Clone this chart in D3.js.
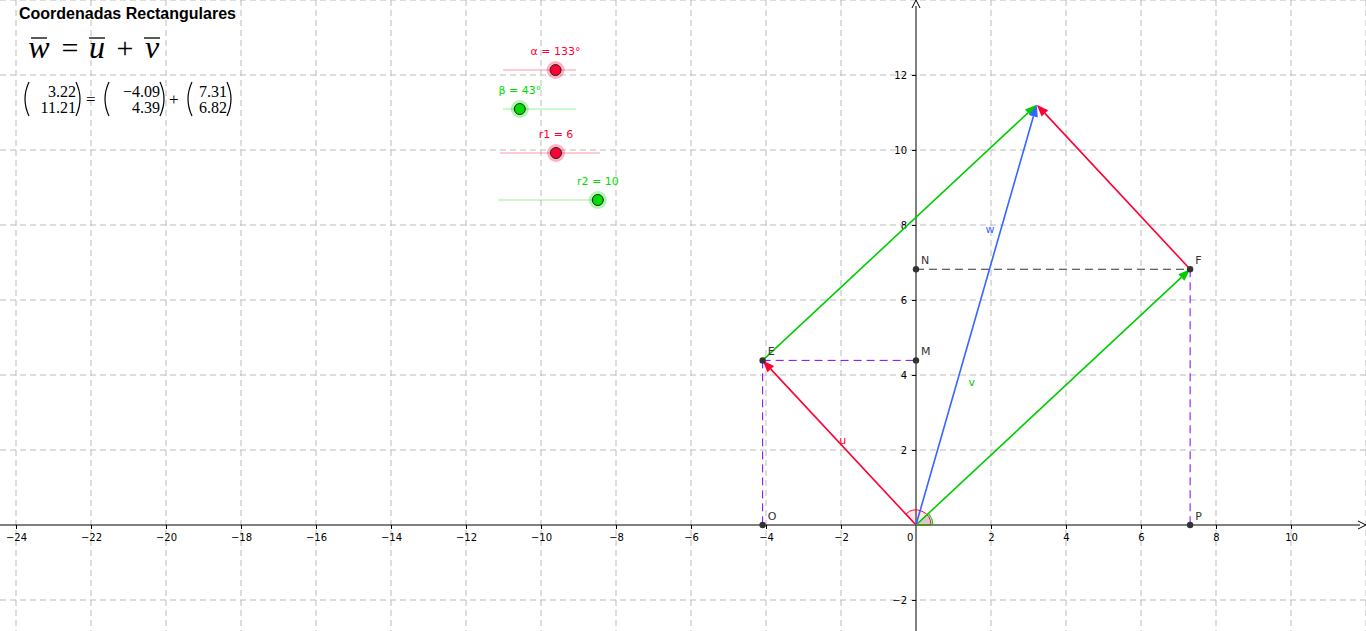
<!DOCTYPE html><html><head><meta charset="utf-8">
<script src="https://cdn.jsdelivr.net/npm/d3@7"></script>
<style>body{margin:0;background:#fff}svg{display:block}</style></head><body>
<svg id="c" width="1366" height="631" font-family="DejaVu Sans, sans-serif"></svg>
<script>
const xTicks=[-24,-22,-20,-18,-16,-14,-12,-10,-8,-6,-4,-2,2,4,6,8,10];
const yTicks=[-2,2,4,6,8,10,12];
const U=[-4.09,4.39], V=[7.31,6.82], W=[3.22,11.21];
const points=[{n:"E",p:[-4.09,4.39]},{n:"F",p:[7.31,6.82]},{n:"M",p:[0,4.39]},{n:"N",p:[0,6.82]},{n:"O",p:[-4.09,0]},{n:"P",p:[7.31,0]}];
const sliders=[{label:"α = 133°",col:"#ff0033",y:70,x0:503,x1:576,frac:0.72},{label:"β = 43°",col:"#00dd00",y:109,x0:503,x1:576,frac:0.23},{label:"r1 = 6",col:"#ff0033",y:153,x0:500,x1:600,frac:0.56},{label:"r2 = 10",col:"#00dd00",y:200,x0:498,x1:602,frac:0.96}];
const svg=d3.select("#c");
const x=d3.scaleLinear().domain([-24,0]).range([16,916]);
const y=d3.scaleLinear().domain([0,12]).range([525,75]);
const g=svg.append("g");
for(let v=-24;v<=12;v+=2) if(v!==0) g.append("line").attr("x1",x(v)).attr("x2",x(v)).attr("y1",0).attr("y2",631).attr("stroke","#bbb").attr("stroke-dasharray","6,4");
for(let v=-2;v<=16;v+=2) if(v!==0) g.append("line").attr("x1",0).attr("x2",1366).attr("y1",y(v)).attr("y2",y(v)).attr("stroke","#bbb").attr("stroke-dasharray","6,4");
const xa=d3.axisBottom(x).tickValues(xTicks).tickSize(4).tickFormat(d=>d<0?"−"+(-d):d);
const ya=d3.axisLeft(y).tickValues(yTicks).tickSize(4).tickFormat(d=>d<0?"−"+(-d):d);
const gx=svg.append("g").attr("transform",`translate(0,${y(0)})`).call(xa);
const gy=svg.append("g").attr("transform",`translate(${x(0)},0)`).call(ya);
[gx,gy].forEach(a=>{a.select(".domain").remove();a.attr("font-family","DejaVu Sans, sans-serif");a.selectAll("text").attr("font-size",10).attr("fill","#000");a.selectAll("line").attr("stroke","#000");});
gx.selectAll("text").attr("dy","0.9em");
gy.selectAll("text").attr("dx","-2").attr("dy","0.35em");
svg.append("line").attr("x1",0).attr("x2",1360).attr("y1",y(0)).attr("y2",y(0)).attr("stroke","#000");
svg.append("line").attr("x1",x(0)).attr("x2",x(0)).attr("y1",631).attr("y2",6).attr("stroke","#000");
svg.append("path").attr("d",`M1358,${y(0)-4}L1366,${y(0)}L1358,${y(0)+4}`).attr("fill","none").attr("stroke","#000");
svg.append("path").attr("d",`M${x(0)-4},8L${x(0)},0L${x(0)+4},8`).attr("fill","none").attr("stroke","#000");
svg.append("text").attr("x",x(0)-9).attr("y",y(0)+16).attr("font-size",10).text("0");
const arc=d3.arc();
svg.append("path").attr("transform",`translate(${x(0)},${y(0)})`).attr("d",arc({innerRadius:0,outerRadius:15,startAngle:Math.PI/2-133*Math.PI/180,endAngle:Math.PI/2})).attr("fill","rgba(255,0,50,0.1)").attr("stroke","#ff0033");
svg.append("path").attr("transform",`translate(${x(0)},${y(0)})`).attr("d",arc({innerRadius:0,outerRadius:17,startAngle:Math.PI/2-43*Math.PI/180,endAngle:Math.PI/2})).attr("fill","rgba(120,120,120,0.25)").attr("stroke","#00cc00");
function dl(a,b,c,dash){svg.append("line").attr("x1",x(a[0])).attr("y1",y(a[1])).attr("x2",x(b[0])).attr("y2",y(b[1])).attr("stroke",c).attr("stroke-dasharray",dash);}
dl([0,6.82],V,"#333","8,5");
dl(U,[0,4.39],"#7f00ff","8,5");dl(U,[-4.09,0],"#7f00ff","8,5");dl(V,[7.31,0],"#7f00ff","8,5");
function vec(a,b,c){const x1=x(a[0]),y1=y(a[1]),x2=x(b[0]),y2=y(b[1]);const ang=Math.atan2(y2-y1,x2-x1),L=12,H=4.5;
 const bx=x2-L*Math.cos(ang),by=y2-L*Math.sin(ang);
 svg.append("line").attr("x1",x1).attr("y1",y1).attr("x2",bx).attr("y2",by).attr("stroke",c).attr("stroke-width",1.6);
 svg.append("path").attr("d",`M${x2},${y2}L${bx+H*Math.sin(ang)},${by-H*Math.cos(ang)}L${bx-H*Math.sin(ang)},${by+H*Math.cos(ang)}Z`).attr("fill",c);}
vec([0,0],U,"#ff0033");vec(V,W,"#ff0033");vec([0,0],V,"#00cc00");vec(U,W,"#00cc00");vec([0,0],W,"#3366ff");
svg.append("text").attr("x",x(-2.05)).attr("y",y(2.15)).attr("fill","#ff0033").attr("font-size",11).text("u");
svg.append("text").attr("x",x(1.4)).attr("y",y(3.7)).attr("fill","#00cc00").attr("font-size",11).text("v");
svg.append("text").attr("x",x(1.85)).attr("y",y(7.8)).attr("fill","#3366ff").attr("font-size",11).text("w");
points.forEach(d=>{svg.append("circle").attr("cx",x(d.p[0])).attr("cy",y(d.p[1])).attr("r",3.2).attr("fill","#333");
 svg.append("text").attr("x",x(d.p[0])+5).attr("y",y(d.p[1])-5).attr("font-size",11).attr("fill","#333").text(d.n);});
sliders.forEach(s=>{svg.append("line").attr("x1",s.x0).attr("x2",s.x1).attr("y1",s.y).attr("y2",s.y).attr("stroke",s.col).attr("stroke-opacity",0.4);
 const cx=s.x0+(s.x1-s.x0)*s.frac;
 svg.append("circle").attr("cx",cx).attr("cy",s.y).attr("r",9).attr("fill",s.col).attr("opacity",0.3);
 svg.append("circle").attr("cx",cx).attr("cy",s.y).attr("r",5.5).attr("fill",s.col).attr("stroke","#222");
 svg.append("text").attr("x",cx).attr("y",s.y-15).attr("text-anchor","middle").attr("font-size",11).attr("fill",s.col).text(s.label);});
svg.append("text").attr("x",19).attr("y",19).attr("font-size",16).attr("font-weight","bold").attr("font-family","Liberation Sans, Arial, sans-serif").text("Coordenadas Rectangulares");
const SER="Liberation Serif, serif";
[{t:"w",c:39,it:1,bar:1},{t:"=",c:70},{t:"u",c:97,it:1,bar:1},{t:"+",c:125},{t:"v",c:152,it:1,bar:1}].forEach(s=>{
 svg.append("text").attr("x",s.c).attr("y",58).attr("text-anchor","middle").attr("font-size",s.it?32:30).attr("font-style",s.it?"italic":"normal").attr("font-family",SER).text(s.t);
 if(s.bar) svg.append("line").attr("x1",s.c-8).attr("x2",s.c+8).attr("y1",38).attr("y2",38).attr("stroke","#000").attr("stroke-width",1.3);});
function paren(xl,xr){svg.append("path").attr("d",`M${xl+6},82 Q${xl-2},99 ${xl+6},116`).attr("fill","none").attr("stroke","#000").attr("stroke-width",1.2);
 svg.append("path").attr("d",`M${xr-6},82 Q${xr+2},99 ${xr-6},116`).attr("fill","none").attr("stroke","#000").attr("stroke-width",1.2);}
function col(xl,xr,a,b){paren(xl,xr);const t=(v,yy)=>svg.append("text").attr("x",xr-6).attr("y",yy).attr("text-anchor","end").attr("font-size",16).attr("font-family",SER).text(v);t(a,97);t(b,113);}
col(23,82,"3.22","11.21");col(103,166,"−4.09","4.39");col(186,233,"7.31","6.82");
svg.append("text").attr("x",86).attr("y",105).attr("font-size",17).attr("font-family",SER).text("=");
svg.append("text").attr("x",169).attr("y",105).attr("font-size",17).attr("font-family",SER).text("+");
</script></body></html>
